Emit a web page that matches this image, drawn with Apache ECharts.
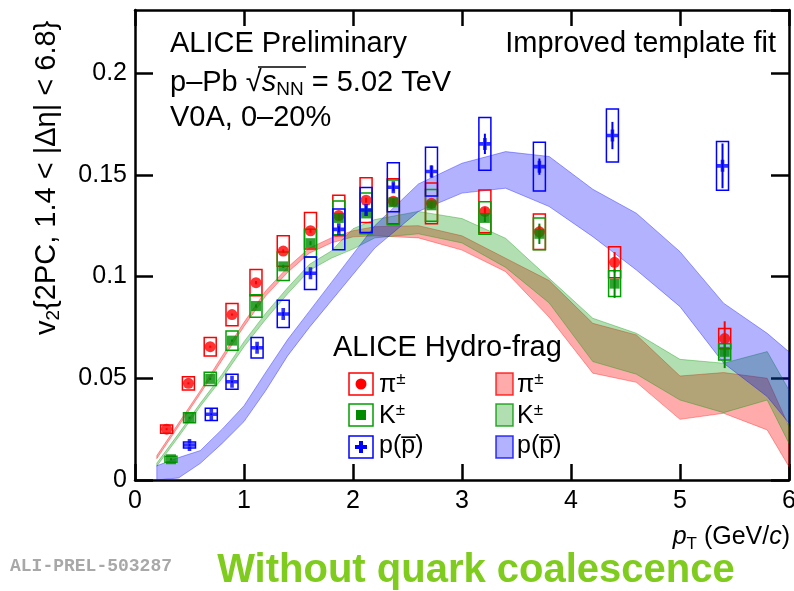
<!DOCTYPE html>
<html><head><meta charset="utf-8">
<script src="https://cdn.jsdelivr.net/npm/echarts@6/dist/echarts.min.js"></script>
<style>html,body{margin:0;padding:0;background:#fff;overflow:hidden}#c{width:794px;height:591px}</style>
</head><body><div id="c"></div>
<script>
// ---- measured points ----
const ptPi = [0.29,0.49,0.69,0.89,1.11,1.36,1.61,1.87,2.12,2.37,2.72,3.21,3.71,4.40,5.41];
const v2Pi = [0.0250,0.0475,0.0655,0.0813,0.0970,0.1125,0.1225,0.1300,0.1375,0.1370,0.1360,0.1320,0.1220,0.1070,0.0695];
const sysPi = [0.0020,0.0033,0.0045,0.0055,0.0064,0.0075,0.0090,0.0100,0.0110,0.0110,0.0100,0.0105,0.0087,0.0076,0.0050];
const statPi = [0.0005,0.0005,0.0005,0.0005,0.0008,0.0008,0.0010,0.0010,0.0012,0.0015,0.0015,0.0020,0.0030,0.0050,0.0085];

const ptK = [0.33,0.50,0.69,0.89,1.11,1.36,1.61,1.87,2.12,2.37,2.72,3.21,3.71,4.40,5.41];
const v2K = [0.0102,0.0306,0.0497,0.0685,0.0855,0.1050,0.1164,0.1288,0.1310,0.1365,0.1350,0.1288,0.1210,0.0965,0.0630];
const sysK = [0.0015,0.0025,0.0033,0.0047,0.0055,0.0070,0.0068,0.0083,0.0100,0.0110,0.0078,0.0080,0.0078,0.0063,0.0040];
const statK = [0.0005,0.0005,0.0005,0.0005,0.0008,0.0008,0.0010,0.0010,0.0012,0.0015,0.0015,0.0020,0.0050,0.0070,0.0080];

const ptP = [0.50,0.70,0.89,1.12,1.36,1.61,1.87,2.12,2.37,2.72,3.21,3.71,4.38,5.39];
const v2P = [0.0172,0.0323,0.0483,0.0650,0.0816,0.1016,0.1232,0.1327,0.1439,0.1516,0.1652,0.1540,0.1693,0.1544];
const sysP = [0.0015,0.0030,0.0037,0.0050,0.0067,0.0080,0.0100,0.0110,0.0120,0.0120,0.0130,0.0120,0.0130,0.0120];
const statP = [0.0005,0.0005,0.0005,0.0010,0.0010,0.0010,0.0015,0.0020,0.0020,0.0030,0.0050,0.0040,0.0067,0.0110];

// ---- hydro-frag bands ----
const hydroPt = [0.2,0.4,0.6,0.8,1.0,1.2,1.4,1.6,1.8,2.0,2.2,2.6,3.0,3.4,3.8,4.2,4.6,5.0,5.4,5.8,6.0];
const piUp = [0.0120,0.0280,0.0440,0.0610,0.0775,0.0930,0.1045,0.1140,0.1190,0.1225,0.1245,0.1250,0.1200,0.1090,0.0980,0.0770,0.0713,0.0511,0.0528,0.0500,0.0262];
const piLo = [0.0105,0.0265,0.0425,0.0590,0.0755,0.0905,0.1020,0.1115,0.1165,0.1195,0.1200,0.1190,0.1130,0.1024,0.0800,0.0525,0.0480,0.0298,0.0328,0.0246,0.0065];
const kUp = [0.0083,0.0228,0.0378,0.0520,0.0680,0.0820,0.0945,0.1060,0.1125,0.1235,0.1280,0.1320,0.1285,0.1188,0.0991,0.0795,0.0721,0.0593,0.0574,0.0631,0.0442];
const kLo = [0.0068,0.0212,0.0362,0.0500,0.0655,0.0790,0.0915,0.1030,0.1090,0.1135,0.1190,0.1210,0.1165,0.1045,0.0870,0.0582,0.0520,0.0393,0.0331,0.0393,0.0180];
const pUp = [0.0070,0.0110,0.0145,0.0250,0.0365,0.0530,0.0690,0.0830,0.0970,0.1110,0.1250,0.1455,0.1557,0.1614,0.1590,0.1429,0.1311,0.1122,0.0869,0.0721,0.0630];
const pLo = [0.0000,0.0010,0.0082,0.0180,0.0287,0.0440,0.0610,0.0750,0.0880,0.1010,0.1140,0.1320,0.1410,0.1434,0.1344,0.1196,0.1032,0.0852,0.0574,0.0410,0.0279];

const yTicks = [0, 0.05, 0.1, 0.15, 0.2];
const xTicks = [0,1,2,3,4,5,6];

const FONT = 'Liberation Sans, Arial, Helvetica, sans-serif';
const RED = '#ff0000', GREEN = '#008a00', BLUE = '#0000ff';

const chart = echarts.init(document.getElementById('c'), null, {renderer:'canvas'});

function band(up, lo, fill, stroke, z){
  return {type:'custom', coordinateSystem:'cartesian2d', xAxisIndex:0, yAxisIndex:0, z:z, silent:true,
    data:[[hydroPt[0], up[0]]],
    renderItem:(params, api)=>{
      const pts=[];
      for(let i=0;i<hydroPt.length;i++) pts.push(api.coord([hydroPt[i], up[i]]));
      for(let i=hydroPt.length-1;i>=0;i--) pts.push(api.coord([hydroPt[i], lo[i]]));
      return {type:'polygon', shape:{points:pts}, style:{fill:fill, stroke:stroke, lineWidth:1}};
    }};
}
function boxes(xs, ys, sy, color, z){
  return {type:'custom', coordinateSystem:'cartesian2d', z:z, silent:true,
    data: xs.map((x,i)=>[x, ys[i], sy[i]]),
    renderItem:(params, api)=>{
      const x=api.value(0), y=api.value(1), s=api.value(2);
      const a=api.coord([x,y+s]), b=api.coord([x,y-s]);
      return {type:'rect', shape:{x:a[0]-6, y:a[1], width:12, height:b[1]-a[1]},
        style:{fill:'none', stroke:color, lineWidth:1.5}};
    }};
}
function errs(xs, ys, st, color, z){
  return {type:'custom', coordinateSystem:'cartesian2d', z:z, silent:true,
    data: xs.map((x,i)=>[x, ys[i], st[i]]),
    renderItem:(params, api)=>{
      const x=api.value(0), y=api.value(1), s=api.value(2);
      const a=api.coord([x,y+s]), b=api.coord([x,y-s]);
      return {type:'line', shape:{x1:a[0], y1:a[1], x2:b[0], y2:b[1]}, style:{stroke:color, lineWidth:2}};
    }};
}
const crossPath = 'path://M3.5,0H6.5V3.5H10V6.5H6.5V10H3.5V6.5H0V3.5H3.5Z';

const axisCommon = {
  axisLine:{show:true, onZero:false, lineStyle:{color:'#000', width:2.5}},
  splitLine:{show:false}
};
const option = {
  animation:false,
  backgroundColor:'#fff',
  grid:{left:135, right:5, top:10, bottom:111, containLabel:false, outerBoundsMode:'none'},
  xAxis:[
    Object.assign({type:'value', min:0, max:6, interval:1,
      axisTick:{inside:true, length:16, lineStyle:{color:'#000', width:2.5}},
      axisLabel:{fontSize:25, color:'#000', fontFamily:FONT, margin:9,
        formatter:v=> xTicks.includes(v)? String(v):''}}, axisCommon),
    Object.assign({type:'value', position:'top', min:0, max:6, interval:1,
      axisTick:{inside:true, length:16, lineStyle:{color:'#000', width:2.5}},
      axisLabel:{show:false}}, axisCommon)
  ],
  yAxis:[
    Object.assign({type:'value', min:0, max:0.231, interval:0.05,
      axisTick:{inside:true, length:18, lineStyle:{color:'#000', width:2.5}},
      axisLabel:{fontSize:25, color:'#000', fontFamily:FONT, margin:8, showMaxLabel:false,
        formatter:v=>{ const t=yTicks.find(q=>Math.abs(q-v)<1e-6); return t===undefined?'':String(t);} }}, axisCommon),
    Object.assign({type:'value', position:'right', min:0, max:0.231, interval:0.05,
      axisTick:{inside:true, length:18, lineStyle:{color:'#000', width:2.5}},
      axisLabel:{show:false}}, axisCommon)
  ],
  series:[
    band(piUp, piLo, 'rgba(255,0,0,0.33)', 'rgba(255,0,0,0.35)', 1),
    band(kUp, kLo, 'rgba(0,150,0,0.30)', 'rgba(0,150,0,0.35)', 2),
    band(pUp, pLo, 'rgba(0,0,255,0.30)', 'rgba(0,0,255,0.35)', 3),
    boxes(ptPi, v2Pi, sysPi, RED, 5),
    boxes(ptK, v2K, sysK, '#00a000', 5),
    boxes(ptP, v2P, sysP, BLUE, 5),
    errs(ptPi, v2Pi, statPi, RED, 6),
    errs(ptK, v2K, statK, GREEN, 6),
    errs(ptP, v2P, statP, BLUE, 6),
    {type:'scatter', z:7, symbol:'circle', symbolSize:11, itemStyle:{color:RED}, silent:true,
      data: ptPi.map((x,i)=>[x, v2Pi[i]])},
    {type:'scatter', z:7, symbol:'rect', symbolSize:10, itemStyle:{color:GREEN}, silent:true,
      data: ptK.map((x,i)=>[x, v2K[i]])},
    {type:'scatter', z:7, symbol:crossPath, symbolSize:12, itemStyle:{color:BLUE}, silent:true,
      data: ptP.map((x,i)=>[x, v2P[i]])}
  ],
  graphic:[
    {type:'text', x:30, y:335, rotation:Math.PI/2, z:10,
      style:{text:'v{sub|2}{2PC, 1.4 < |Δη| < 6.8}', font:'29px '+FONT, fill:'#000',
        rich:{sub:{fontSize:19, fontFamily:FONT, padding:[14,0,0,0]}}}},
    {type:'text', x:790, y:522, z:10,
      style:{text:'{it|p}{sub|T} (GeV/{it|c})', font:'25px '+FONT, fill:'#000', align:'right',
        rich:{it:{fontStyle:'italic', fontSize:25, fontFamily:FONT}, sub:{fontSize:17, fontFamily:FONT, padding:[14,0,0,0]}}}},
    {type:'text', x:170, y:29, z:10, style:{text:'ALICE Preliminary', font:'29px '+FONT, fill:'#000'}},
    {type:'text', x:170, y:66, z:10, style:{text:'p–Pb √{it|s}{sub|NN} = 5.02 TeV', font:'29px '+FONT, fill:'#000',
      rich:{it:{fontStyle:'italic', fontSize:29, fontFamily:FONT}, sub:{fontSize:19, fontFamily:FONT, padding:[14,0,0,0]}}}},
    {type:'line', z:10, shape:{x1:258, y1:67, x2:306, y2:67}, style:{stroke:'#000', lineWidth:1.5}},
    {type:'text', x:170, y:103, z:10, style:{text:'V0A, 0–20%', font:'29px '+FONT, fill:'#000'}},
    {type:'text', x:776, y:29, z:10, style:{text:'Improved template fit', font:'29px '+FONT, fill:'#000', align:'right'}},
    {type:'text', x:333, y:333, z:10, style:{text:'ALICE Hydro-frag', font:'29px '+FONT, fill:'#000'}},
    {type:'rect', z:10, shape:{x:349, y:373, width:24, height:22}, style:{fill:'none', stroke:RED, lineWidth:1.5}},
    {type:'circle', z:11, shape:{cx:361, cy:384, r:5.5}, style:{fill:RED}},
    {type:'rect', z:10, shape:{x:349, y:404, width:24, height:22}, style:{fill:'none', stroke:'#00a000', lineWidth:1.5}},
    {type:'rect', z:11, shape:{x:356, y:410, width:10, height:10}, style:{fill:GREEN}},
    {type:'rect', z:10, shape:{x:349, y:436, width:24, height:22}, style:{fill:'none', stroke:BLUE, lineWidth:1.5}},
    {type:'polygon', z:11, shape:{points:[[359,441],[363,441],[363,445],[367,445],[367,449],[363,449],[363,453],[359,453],[359,449],[355,449],[355,445],[359,445]]}, style:{fill:BLUE}},
    {type:'text', x:379, y:371, z:10, style:{text:'π{sup|±}', font:'25px '+FONT, fill:'#000', rich:{sup:{fontSize:17, fontFamily:FONT, padding:[0,0,12,0]}}}},
    {type:'text', x:379, y:402, z:10, style:{text:'K{sup|±}', font:'25px '+FONT, fill:'#000', rich:{sup:{fontSize:17, fontFamily:FONT, padding:[0,0,12,0]}}}},
    {type:'text', x:379, y:434, z:10, style:{text:'p(p\u0305)', font:'25px '+FONT, fill:'#000'}},
    {type:'rect', z:10, shape:{x:496, y:373, width:17, height:22}, style:{fill:'rgba(255,0,0,0.33)', stroke:'rgba(255,0,0,0.8)', lineWidth:1.5}},
    {type:'rect', z:10, shape:{x:496, y:404, width:17, height:22}, style:{fill:'rgba(0,150,0,0.30)', stroke:'rgba(0,150,0,0.8)', lineWidth:1.5}},
    {type:'rect', z:10, shape:{x:496, y:436, width:17, height:22}, style:{fill:'rgba(0,0,255,0.30)', stroke:'rgba(0,0,255,0.8)', lineWidth:1.5}},
    {type:'text', x:517, y:371, z:10, style:{text:'π{sup|±}', font:'25px '+FONT, fill:'#000', rich:{sup:{fontSize:17, fontFamily:FONT, padding:[0,0,12,0]}}}},
    {type:'text', x:517, y:402, z:10, style:{text:'K{sup|±}', font:'25px '+FONT, fill:'#000', rich:{sup:{fontSize:17, fontFamily:FONT, padding:[0,0,12,0]}}}},
    {type:'text', x:517, y:434, z:10, style:{text:'p(p\u0305)', font:'25px '+FONT, fill:'#000'}},
    {type:'text', x:10, y:557, z:10, style:{text:'ALI-PREL-503287', font:'bold 18px Liberation Mono, DejaVu Sans Mono, monospace', fill:'#a8a8a8'}},
    {type:'text', x:476, y:571, z:10, style:{text:'Without quark coalescence', font:'bold 40px '+FONT, fill:'#7fcc1f', align:'center', verticalAlign:'middle'}}
  ]
};
chart.setOption(option);
</script>
</body></html>
